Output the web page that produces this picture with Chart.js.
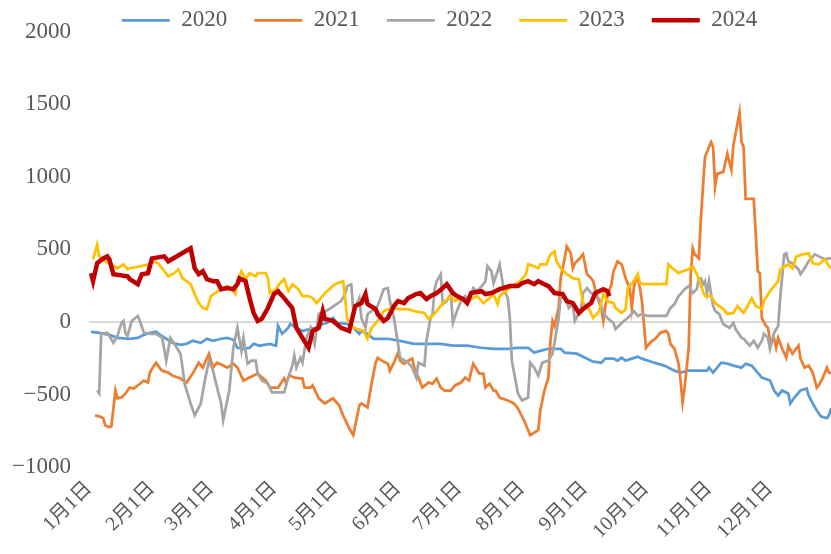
<!DOCTYPE html>
<html>
<head>
<meta charset="utf-8">
<script src="https://cdn.jsdelivr.net/npm/chart.js@4.4.1/dist/chart.umd.min.js"></script>
<style>
  body { margin: 0; background: #fff; }
  #wrap { width: 831px; height: 554px; }
</style>
</head>
<body>
<div id="wrap"><canvas id="myChart"></canvas></div>
<script>
// [day of year (0 = 1月1日), value]
const s2020 = [[1,-68],[5,-75],[10,-89],[14,-110],[20,-116],[24,-110],[27,-89],[30,-75],[33,-68],[35,-89],[38,-116],[41,-144],[45,-158],[48,-151],[51,-130],[55,-144],[58,-116],[61,-130],[65,-116],[68,-110],[71,-123],[73,-178],[76,-185],[79,-178],[81,-151],[84,-164],[89,-151],[92,-164],[93,-27],[95,-82],[98,-41],[99,-14],[102,-41],[105,-62],[109,-48],[112,-41],[115,-14],[117,-7],[120,27],[122,-7],[127,-14],[130,-41],[133,-82],[134,-62],[137,-82],[140,-116],[147,-116],[153,-130],[160,-151],[166,-151],[173,-151],[179,-164],[186,-164],[193,-178],[199,-185],[206,-185],[211,-178],[216,-178],[219,-212],[222,-199],[226,-185],[232,-185],[234,-212],[240,-219],[244,-247],[248,-274],[252,-281],[254,-253],[258,-253],[260,-267],[262,-247],[264,-267],[267,-253],[270,-240],[272,-253],[278,-281],[283,-301],[288,-336],[291,-349],[295,-336],[300,-336],[304,-336],[305,-315],[307,-349],[311,-281],[314,-288],[317,-301],[321,-315],[323,-288],[326,-301],[331,-384],[335,-404],[337,-473],[339,-507],[341,-473],[344,-493],[345,-562],[347,-521],[350,-473],[353,-459],[354,-507],[356,-562],[358,-610],[360,-651],[363,-664],[364,-644],[365,-596]];

const s2021 = [[3,-644],[5,-651],[7,-664],[8,-712],[10,-726],[11,-719],[13,-473],[14,-527],[16,-521],[18,-493],[20,-452],[22,-459],[24,-438],[27,-404],[29,-418],[30,-349],[31,-322],[33,-281],[35,-322],[36,-336],[39,-349],[41,-370],[45,-390],[48,-418],[51,-356],[54,-281],[56,-315],[59,-219],[61,-315],[63,-281],[66,-301],[68,-315],[71,-288],[73,-315],[76,-404],[78,-390],[81,-370],[83,-356],[87,-404],[89,-452],[93,-452],[96,-390],[97,-425],[98,-384],[99,-370],[101,-384],[105,-390],[106,-452],[109,-452],[110,-438],[113,-527],[116,-562],[120,-527],[123,-575],[125,-644],[128,-733],[130,-781],[131,-712],[133,-575],[134,-562],[137,-589],[139,-425],[141,-281],[142,-247],[144,-267],[147,-288],[148,-336],[150,-281],[152,-212],[153,-267],[155,-288],[157,-267],[159,-253],[160,-315],[162,-384],[164,-452],[167,-418],[169,-425],[171,-390],[173,-452],[175,-473],[178,-473],[180,-438],[183,-418],[185,-384],[187,-404],[189,-288],[192,-356],[194,-356],[195,-452],[197,-425],[199,-473],[200,-473],[202,-521],[206,-541],[209,-562],[211,-596],[214,-678],[217,-781],[221,-747],[222,-610],[224,-473],[226,-384],[227,-130],[228,7],[229,-27],[231,96],[232,301],[234,438],[235,521],[237,473],[238,370],[239,404],[241,432],[243,466],[245,329],[247,301],[248,281],[249,226],[250,178],[252,89],[253,7],[254,110],[255,178],[257,260],[258,349],[260,418],[262,397],[264,301],[266,233],[267,96],[268,233],[269,301],[270,295],[271,233],[272,144],[274,-178],[276,-144],[279,-110],[281,-75],[284,-62],[285,-82],[286,-151],[288,-185],[290,-288],[291,-404],[292,-555],[293,-452],[295,-178],[296,329],[297,507],[298,466],[300,438],[301,712],[303,1137],[306,1240],[307,1206],[308,932],[309,1021],[312,1034],[314,1158],[316,1048],[317,1219],[320,1445],[321,1240],[322,1206],[323,849],[327,849],[329,349],[330,336],[331,27],[333,-27],[334,-41],[335,-130],[337,-116],[338,-178],[339,-110],[341,-185],[343,-247],[344,-164],[346,-219],[349,-164],[350,-253],[352,-315],[354,-301],[356,-349],[358,-452],[359,-438],[361,-384],[363,-315],[364,-349],[365,-356]];

const s2022 = [[4,-473],[5,-493],[6,-82],[9,-75],[10,-96],[12,-144],[14,-96],[16,-7],[17,7],[18,-82],[19,-96],[21,7],[24,41],[25,7],[27,-75],[30,-82],[33,-82],[36,-110],[38,-267],[40,-110],[42,-151],[45,-219],[46,-315],[47,-425],[50,-562],[52,-644],[55,-562],[57,-404],[59,-267],[61,-336],[63,-452],[65,-562],[66,-678],[68,-541],[69,-473],[71,-178],[73,-41],[75,-199],[76,-110],[78,-288],[80,-267],[82,-267],[83,-356],[85,-404],[88,-425],[90,-486],[96,-486],[98,-384],[100,-301],[101,-233],[102,-315],[104,-247],[105,-281],[107,-110],[109,-41],[111,-151],[113,55],[115,62],[119,96],[124,144],[126,192],[127,247],[129,260],[130,75],[131,96],[133,164],[134,27],[136,-41],[137,55],[139,75],[142,110],[145,226],[147,233],[148,144],[150,27],[152,-151],[153,-247],[157,-281],[159,-315],[161,-384],[162,-281],[165,-301],[166,-130],[168,27],[169,55],[170,226],[171,281],[173,329],[174,123],[176,144],[178,192],[179,-7],[181,75],[183,144],[185,178],[187,144],[189,233],[191,212],[194,260],[195,281],[196,384],[198,349],[199,267],[201,349],[202,397],[204,226],[206,164],[207,27],[208,-267],[211,-493],[213,-541],[216,-521],[217,-281],[219,-315],[221,-370],[223,-281],[226,-267],[228,-219],[231,21],[232,164],[234,178],[236,96],[238,123],[239,7],[242,89],[243,199],[245,233],[247,199],[251,158],[253,62],[255,27],[258,-7],[259,-48],[262,-7],[266,41],[268,75],[270,41],[272,55],[275,41],[284,41],[286,96],[288,123],[290,178],[291,192],[293,226],[295,247],[297,199],[299,226],[300,301],[301,301],[302,260],[303,281],[304,199],[305,281],[307,110],[308,75],[310,55],[312,-14],[315,-41],[317,-7],[318,-48],[321,-110],[322,-116],[325,-164],[327,-130],[329,-178],[331,-130],[332,-82],[334,-110],[335,-185],[337,-75],[339,-27],[340,164],[342,466],[343,473],[344,418],[346,404],[349,363],[350,329],[352,370],[354,418],[357,466],[359,452],[362,432],[364,438],[365,438]];

const s2023 = [[2,432],[4,534],[5,452],[8,418],[11,397],[14,370],[17,397],[19,363],[20,370],[30,397],[32,418],[34,404],[36,370],[39,315],[42,336],[44,363],[46,301],[50,260],[52,192],[54,130],[56,96],[58,89],[60,178],[62,199],[65,226],[68,247],[70,226],[72,192],[73,281],[75,349],[77,295],[79,336],[82,315],[83,336],[87,336],[88,301],[89,199],[92,226],[94,267],[96,295],[98,212],[100,260],[103,226],[105,178],[108,178],[110,164],[112,130],[114,164],[117,212],[121,260],[125,281],[126,164],[127,21],[130,-41],[135,-62],[137,-116],[139,-41],[142,7],[145,75],[149,96],[153,89],[157,89],[160,75],[165,62],[167,21],[169,41],[171,75],[174,130],[178,178],[180,144],[183,164],[186,130],[188,158],[191,178],[194,130],[197,164],[199,192],[201,123],[202,178],[205,212],[208,247],[212,281],[215,329],[216,397],[219,384],[221,370],[222,397],[225,397],[227,466],[229,486],[230,418],[232,370],[235,329],[238,301],[241,295],[243,130],[246,89],[248,27],[251,75],[253,192],[255,144],[258,130],[259,96],[262,62],[264,89],[265,233],[268,281],[270,329],[271,267],[273,260],[284,260],[285,397],[287,370],[290,336],[292,349],[295,363],[297,384],[300,301],[302,212],[303,178],[306,178],[308,130],[312,89],[314,55],[317,62],[319,110],[322,62],[324,110],[326,164],[328,110],[331,89],[332,144],[335,212],[339,281],[340,363],[344,397],[346,370],[348,452],[351,466],[354,473],[356,404],[359,397],[362,432],[364,384],[365,370]];

const s2024 = [[1,336],[2,281],[4,404],[7,438],[9,452],[10,432],[12,329],[19,315],[20,295],[24,260],[26,329],[29,336],[31,438],[37,452],[39,418],[50,507],[52,370],[54,329],[56,349],[58,295],[61,281],[63,281],[65,226],[68,233],[71,226],[73,260],[74,301],[77,281],[79,164],[81,62],[83,7],[85,21],[88,96],[91,192],[93,212],[96,164],[100,96],[102,-41],[105,-110],[108,-178],[110,-62],[113,-41],[115,75],[116,21],[120,7],[124,-41],[128,-62],[130,55],[131,110],[134,130],[136,192],[137,123],[141,89],[142,55],[145,7],[147,27],[150,110],[152,144],[155,130],[157,164],[161,192],[163,199],[166,158],[168,178],[171,199],[174,233],[176,260],[179,199],[181,178],[184,158],[186,130],[188,199],[193,212],[195,192],[198,199],[202,226],[207,247],[211,247],[213,267],[216,281],[219,260],[221,281],[224,260],[226,247],[229,199],[233,192],[235,144],[238,130],[241,62],[243,89],[247,130],[249,199],[253,226],[255,212],[256,178]];

const monthStarts = [0, 31, 60, 91, 121, 152, 182, 213, 244, 274, 305, 335];
const monthLabels = ['1月1日', '2月1日', '3月1日', '4月1日', '5月1日', '6月1日',
                     '7月1日', '8月1日', '9月1日', '10月1日', '11月1日', '12月1日'];
const yTicks = [-1000, -500, 0, 500, 1000, 1500, 2000];

const fontFamily = '"Liberation Serif", "Noto Sans CJK SC", serif';
const grey = '#595959';
const toPts = arr => arr.map(p => ({ x: p[0], y: p[1] }));

// the legend sits a bit right of the canvas centre in the original
const legendNudge = {
  id: 'legendNudge',
  afterLayout(chart) {
    if (chart.legend) chart.legend.left += 48;
  }
};

const ctx = document.getElementById('myChart');

new Chart(ctx, {
  type: 'line',
  data: {
    datasets: [
      { label: '2020', data: toPts(s2020), borderColor: '#5B9BD5', backgroundColor: '#5B9BD5', borderWidth: 2.75, order: 5 },
      { label: '2021', data: toPts(s2021), borderColor: '#ED7D31', backgroundColor: '#ED7D31', borderWidth: 2.75, order: 4 },
      { label: '2022', data: toPts(s2022), borderColor: '#A5A5A5', backgroundColor: '#A5A5A5', borderWidth: 2.75, order: 3 },
      { label: '2023', data: toPts(s2023), borderColor: '#FFC000', backgroundColor: '#FFC000', borderWidth: 2.75, order: 2 },
      { label: '2024', data: toPts(s2024), borderColor: '#C00000', backgroundColor: '#C00000', borderWidth: 4.5, order: 1 }
    ]
  },
  plugins: [legendNudge],
  options: {
    animation: false,
    responsive: true,
    maintainAspectRatio: false,
    elements: {
      point: { radius: 0 },
      line: { tension: 0 }
    },
    layout: { padding: { top: -21, left: 0, right: 0, bottom: 0 } },
    plugins: {
      tooltip: { enabled: false },
      legend: {
        maxHeight: 50,
        labels: {
          boxWidth: 48,
          boxHeight: 0,
          padding: 27,
          color: grey,
          font: { family: fontFamily, size: 23 },
          sort: (a, b) => a.datasetIndex - b.datasetIndex
        }
      }
    },
    scales: {
      x: {
        type: 'linear',
        min: 0,
        max: 365,
        afterBuildTicks: axis => { axis.ticks = monthStarts.map(v => ({ value: v })); },
        afterFit: scale => { scale.height = 87; },
        grid: { display: false },
        border: { display: false },
        ticks: {
          autoSkip: false,
          minRotation: 45,
          maxRotation: 45,
          padding: 2,
          color: grey,
          font: { family: fontFamily, size: 20 },
          callback: v => monthLabels[monthStarts.indexOf(v)]
        }
      },
      y: {
        min: -1000,
        max: 2000,
        afterBuildTicks: axis => { axis.ticks = yTicks.map(v => ({ value: v })); },
        afterFit: scale => { scale.width = 89; },
        grid: {
          color: c => c.tick.value === 0 ? '#D9D9D9' : 'rgba(0,0,0,0)',
          lineWidth: 2,
          drawTicks: false
        },
        border: { display: false },
        ticks: {
          padding: 18,
          color: grey,
          font: { family: fontFamily, size: 23 },
          callback: v => v < 0 ? '−' + Math.abs(v) : v
        }
      }
    }
  }
});
</script>
</body>
</html>
